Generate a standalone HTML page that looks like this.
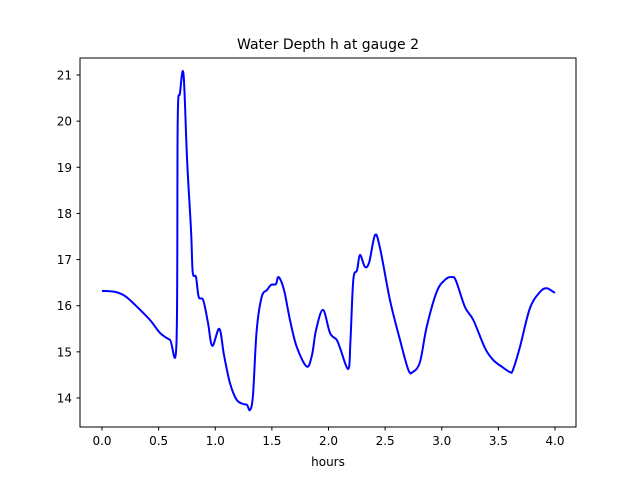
<!DOCTYPE html>
<html><head><meta charset="utf-8"><style>
body{margin:0;background:#fff;}
svg{display:block;font-family:"DejaVu Sans","Liberation Sans",sans-serif;}
</style></head><body>
<svg id="chart" width="640" height="480">
<rect x="0" y="0" width="640" height="480" fill="#fff"/>
<text x="328" y="49" text-anchor="middle" font-size="14">Water Depth h at gauge 2</text>
<g id="plot"></g>
<rect x="80" y="58" width="496" height="369" fill="none" stroke="#000" stroke-width="1"/>
<text x="328" y="466" text-anchor="middle" font-size="12">hours</text>
</svg>
<script>
const hours=[0,0.115,0.203,0.291,0.424,0.512,0.6,0.658,0.668,0.689,0.72,0.751,0.786,0.801,0.83,0.854,0.894,0.936,0.974,1.036,1.077,1.13,1.189,1.248,1.28,1.307,1.333,1.366,1.41,1.457,1.492,1.536,1.559,1.607,1.66,1.719,1.808,1.854,1.89,1.951,2.013,2.072,2.102,2.175,2.194,2.219,2.252,2.278,2.322,2.36,2.411,2.455,2.543,2.631,2.705,2.743,2.808,2.867,2.955,3.029,3.088,3.126,3.205,3.279,3.382,3.455,3.529,3.603,3.629,3.691,3.779,3.868,3.927,3.985,4.0];
const depth=[16.32,16.3,16.21,16.02,15.69,15.41,15.26,15.21,19.96,20.61,21.02,19.16,17.64,16.73,16.62,16.19,16.12,15.63,15.13,15.5,14.93,14.32,13.96,13.87,13.85,13.74,14.06,15.47,16.19,16.34,16.45,16.47,16.62,16.34,15.69,15.11,14.68,14.93,15.47,15.91,15.41,15.26,15.08,14.63,15.26,16.56,16.77,17.1,16.84,16.95,17.53,17.25,16.12,15.26,14.61,14.56,14.78,15.54,16.3,16.56,16.62,16.54,15.97,15.69,15.08,14.82,14.68,14.56,14.61,15.11,15.95,16.3,16.38,16.3,16.28];
const xTicks=["0.0","0.5","1.0","1.5","2.0","2.5","3.0","3.5","4.0"];
const yTicks=[14,15,16,17,18,19,20,21];
const NS="http://www.w3.org/2000/svg";
function xs(v){return 102+v*113.25;}
function ys(v){return 75+(21-v)*46.14;}
const g=document.getElementById('plot');
xTicks.forEach(t=>{
  const x=xs(parseFloat(t));
  const l=document.createElementNS(NS,'line');
  l.setAttribute('x1',x);l.setAttribute('x2',x);l.setAttribute('y1',427);l.setAttribute('y2',430.5);
  l.setAttribute('stroke','#000');
  
  
  g.appendChild(l);
  const tx=document.createElementNS(NS,'text');
  tx.setAttribute('x',x);tx.setAttribute('y',445);tx.setAttribute('text-anchor','middle');tx.setAttribute('font-size','12');
  tx.textContent=t;
  
  
  g.appendChild(tx);
});
yTicks.forEach(t=>{
  const y=ys(t);
  const l=document.createElementNS(NS,'line');
  l.setAttribute('x1',76.5);l.setAttribute('x2',80);l.setAttribute('y1',y);l.setAttribute('y2',y);
  l.setAttribute('stroke','#000');
  
  
  g.appendChild(l);
  const tx=document.createElementNS(NS,'text');
  tx.setAttribute('x',72);tx.setAttribute('y',y+4.5);tx.setAttribute('text-anchor','end');tx.setAttribute('font-size','12');
  tx.textContent=t;
  
  
  g.appendChild(tx);
});
const P=hours.map((h,i)=>[xs(h),ys(depth[i])]);
let d='M'+P[0][0].toFixed(1)+','+P[0][1].toFixed(1);
for(let i=0;i<P.length-1;i++){
  const p0=P[Math.max(0,i-1)],p1=P[i],p2=P[i+1],p3=P[Math.min(P.length-1,i+2)];
  const c1x=p1[0]+(p2[0]-p0[0])/6,c1y=p1[1]+(p2[1]-p0[1])/6;
  const c2x=p2[0]-(p3[0]-p1[0])/6,c2y=p2[1]-(p3[1]-p1[1])/6;
  d+=' C'+c1x.toFixed(1)+','+c1y.toFixed(1)+' '+c2x.toFixed(1)+','+c2y.toFixed(1)+' '+p2[0].toFixed(1)+','+p2[1].toFixed(1);
}
const pl=document.createElementNS(NS,'path');
pl.setAttribute('d',d);
pl.setAttribute('fill','none');pl.setAttribute('stroke','#0000ff');pl.setAttribute('stroke-width','2');pl.setAttribute('stroke-linejoin','round');


g.appendChild(pl);
</script>
</body></html>
